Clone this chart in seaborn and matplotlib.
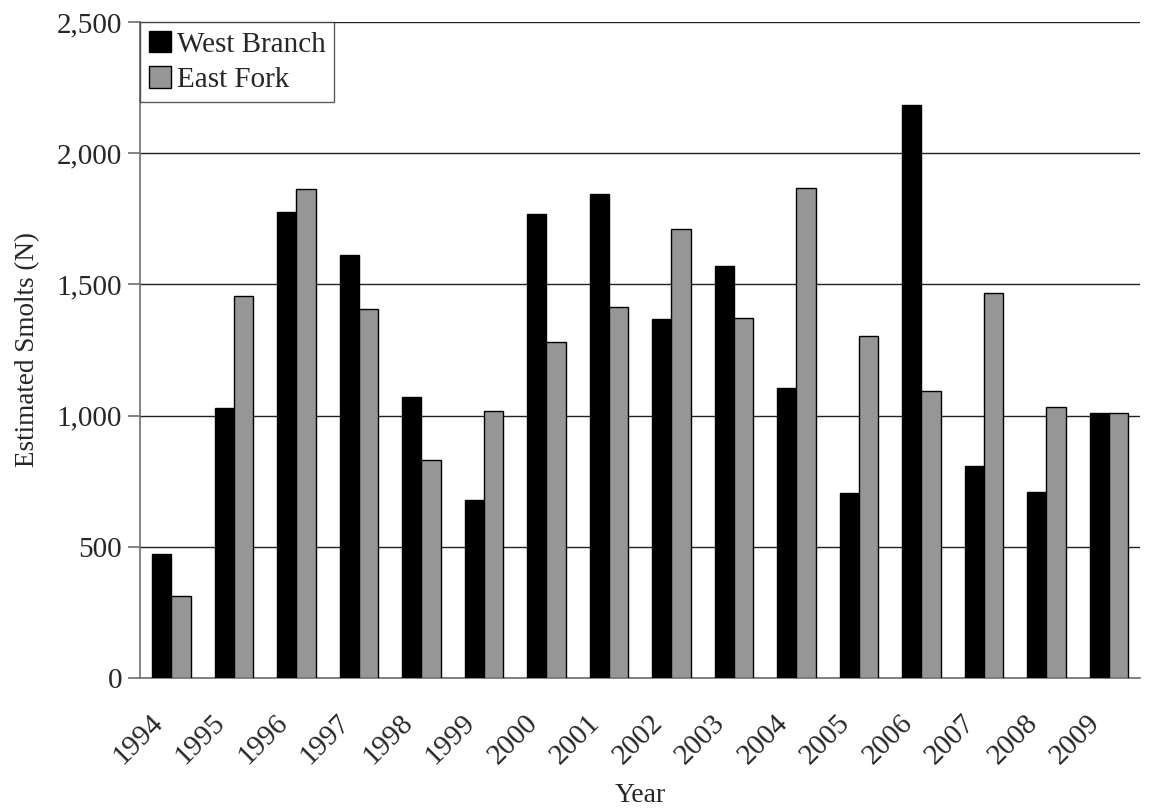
import matplotlib
matplotlib.use("Agg")
import matplotlib.pyplot as plt
import matplotlib.ticker as mticker
import matplotlib.transforms as mtransforms
from matplotlib.patches import Patch
import numpy as np
import pandas as pd
import seaborn as sns

sns.set_theme(style="white")
plt.rcParams['font.family'] = ['Liberation Serif', 'DejaVu Serif']

years = [str(y) for y in range(1994, 2010)]
west_branch = [472, 1029, 1777, 1612, 1070, 677, 1767, 1844, 1368, 1571, 1104, 705, 2184, 809, 707, 1008]
east_fork = [312, 1457, 1864, 1405, 832, 1017, 1280, 1415, 1710, 1373, 1868, 1305, 1092, 1466, 1032, 1010]
series = ["West Branch", "East Fork"]
colors = ["#000000", "#969696"]

df = pd.DataFrame({
    "Year": years * 2,
    "Smolts": west_branch + east_fork,
    "Site": [series[0]] * len(years) + [series[1]] * len(years),
})

fig, ax = plt.subplots(figsize=(11.54, 8.11), dpi=100)
fig.subplots_adjust(left=0.1215, right=0.988, top=0.973, bottom=0.164)

sns.barplot(data=df, x="Year", y="Smolts", hue="Site", palette=colors,
            width=0.62, gap=0, edgecolor="black", linewidth=1.0,
            saturation=1, ax=ax, legend=False, zorder=3)

ax.set_ylim(0, 2500)
ax.set_xlim(-0.5, len(years) - 0.5)
ax.yaxis.set_major_locator(mticker.MultipleLocator(500))
ax.yaxis.set_major_formatter(mticker.FuncFormatter(lambda v, p: f"{int(v):,}"))
ax.yaxis.grid(True, color="#222222", linewidth=1.0, zorder=0)
ax.set_axisbelow(True)

for s in ["top", "right"]:
    ax.spines[s].set_visible(False)
for s in ["left", "bottom"]:
    ax.spines[s].set_color("#6e6e6e")
    ax.spines[s].set_linewidth(1.2)

# ticks between categories, labels rotated like the original
ax.set_xticks(np.arange(len(years)))
ax.set_xticklabels(years, rotation=45, ha="right", rotation_mode="anchor", fontsize=21)
ax.set_xticks(np.arange(-0.5, len(years)), minor=True)
ax.tick_params(axis="x", which="major", length=0, pad=14)
ax.tick_params(axis="x", which="minor", length=8, width=1.2, color="#6e6e6e", direction="out")
ax.tick_params(axis="y", which="major", left=True, length=9, width=1.2, color="#6e6e6e",
               direction="out", labelsize=21, pad=4)
shift = mtransforms.ScaledTranslation(-0.22, -0.12, fig.dpi_scale_trans)
for lab in ax.get_xticklabels():
    lab.set_transform(lab.get_transform() + shift)

ax.set_xlabel("Year", fontsize=20, labelpad=10)
ax.set_ylabel("Estimated Smolts (N)", fontsize=19.5, labelpad=12)

handles = [Patch(facecolor=c, edgecolor="black", linewidth=1.0) for c in colors]
leg = ax.legend(handles, series, loc="upper left", bbox_to_anchor=(0.0, 1.0),
                fontsize=21, frameon=True, fancybox=False, edgecolor="#333333",
                handlelength=0.75, handleheight=0.75, handletextpad=0.2,
                borderpad=0.3, labelspacing=0.3, borderaxespad=0.0)
leg.get_frame().set_linewidth(1.0)
leg.set_zorder(5)

plt.savefig("out.png", dpi=100)
